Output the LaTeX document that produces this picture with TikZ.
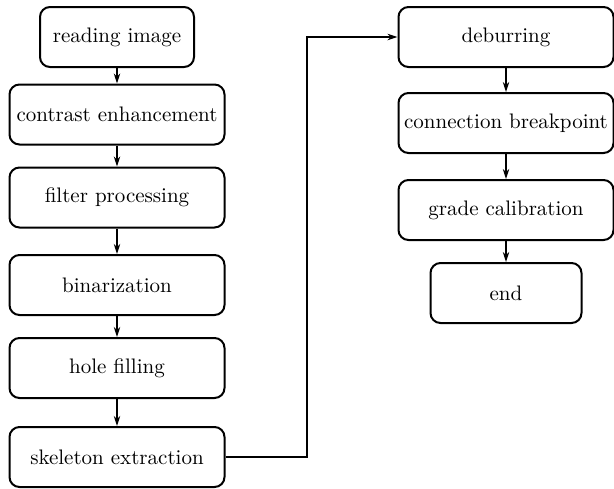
\documentclass[tikz,border=0pt]{standalone}
\usetikzlibrary{arrows.meta,positioning}

\tikzset{
  stepbox/.style={draw, line width=1pt, rounded corners=5pt,
    minimum width=107.5pt, minimum height=30pt, inner sep=0pt,
    font=\fontsize{10.5}{12}\selectfont},
  flow/.style={line width=0.6pt, -{Stealth[length=5pt,width=3.2pt]}},
}

\begin{document}
\begin{tikzpicture}[x=0.5pt,y=-0.5pt]

    \useasboundingbox (0,0) rectangle (614,488);

    % left column
    \node[stepbox, minimum width=77pt] (read) at (117,37) {reading image};
    \node[stepbox] (contrast) at (117,114.5) {contrast enhancement};
    \node[stepbox] (filter) at (117,197.5) {filter processing};
    \node[stepbox] (binar) at (117,285) {binarization};
    \node[stepbox] (hole) at (117,368) {hole filling};
    \node[stepbox] (skel) at (117,457) {skeleton extraction};

    % right column
    \node[stepbox] (deburr) at (506,37) {deburring};
    \node[stepbox] (conn) at (506,123) {connection breakpoint};
    \node[stepbox] (grade) at (506,210) {grade calibration};
    \node[stepbox, minimum width=75.5pt] (end) at (506,293) {end};

    \coordinate (turn) at (307,457);

    \draw[flow] (read) -- (contrast);
    \draw[flow] (contrast) -- (filter);
    \draw[flow] (filter) -- (binar);
    \draw[flow] (binar) -- (hole);
    \draw[flow] (hole) -- (skel);

    \draw[flow, line width=1pt] (skel.east) -- (turn) |- (deburr.west);

    \draw[flow] (deburr) -- (conn);
    \draw[flow] (conn) -- (grade);
    \draw[flow] (grade) -- (end);

\end{tikzpicture}
\end{document}
